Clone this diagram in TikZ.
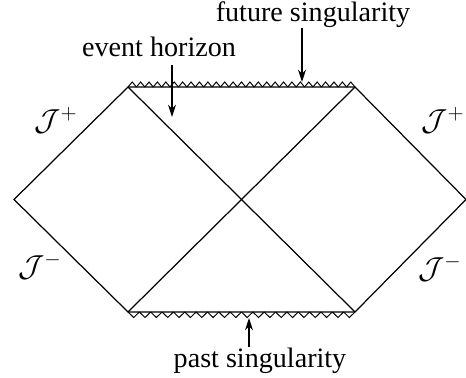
\documentclass[tikz,border=0pt]{standalone}
\usepackage{amsmath}
\usepackage{fontspec}
\setmainfont{Liberation Serif}
\usetikzlibrary{arrows.meta}

\tikzset{
  edge/.style={line width=0.7pt},
  pointer/.style={line width=0.6pt, -{Stealth[length=7pt,width=4.5pt]}},
  label/.style={font=\fontsize{16}{19}\selectfont, inner sep=0pt},
  scri/.style={font=\fontsize{18}{21}\selectfont, inner sep=0pt}
}

\begin{document}
\begin{tikzpicture}[x=0.02cm, y=-0.02cm]
  \useasboundingbox (0,0) rectangle (466,378);
  % corners of the diagram
  \coordinate (tl) at (128,87);
  \coordinate (tr) at (355,87);
  \coordinate (bl) at (128,312);
  \coordinate (br) at (355,312);
  \coordinate (lv) at (14,199.5);
  \coordinate (rv) at (466,199.5);

  \draw[edge] (tl) -- (lv) -- (bl) -- (br) -- (rv) -- (tr) -- cycle;
  \draw[edge] (tl) -- (br);
  \draw[edge] (tr) -- (bl);

  % singularities
  \foreach \i in {0,...,26}
    \draw[line width=0.55pt] ({128+\i*227/27},87) -- ({128+(\i+0.5)*227/27},82) -- ({128+(\i+1)*227/27},87);
  \foreach \i in {0,...,19}
    \draw[line width=0.55pt] ({128+\i*227/20},312) -- ({128+(\i+0.5)*227/20},317.5) -- ({128+(\i+1)*227/20},312);

  % labels
  \node[label] (fut) at (313,15) {future singularity};
  \node[label] (hor) at (159,47) {event horizon};
  \node[label] (pst) at (260,361) {past singularity};
  \coordinate (futtip) at (302,82);
  \coordinate (hortip) at (172,117);
  \coordinate (psttip) at (249,318);
  \draw[pointer] (302,28) -- (futtip);
  \draw[pointer] (172,65) -- (hortip);
  \draw[pointer] (249,347) -- (psttip);

  \node[scri] (sl1) at (56,120) {$\mathcal{J}^{+}$};
  \node[scri] (sl2) at (40,266) {$\mathcal{J}^{-}$};
  \node[scri] (sr1) at (443,120) {$\mathcal{J}^{+}$};
  \node[scri] (sr2) at (440,268) {$\mathcal{J}^{-}$};
\end{tikzpicture}
\end{document}
